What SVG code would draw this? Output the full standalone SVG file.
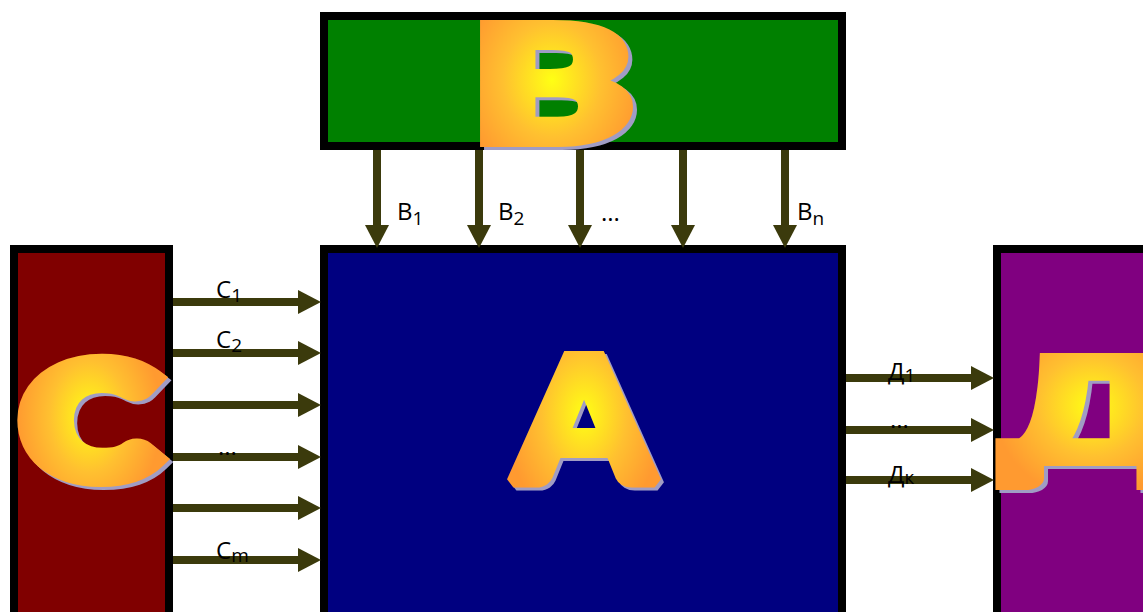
<svg xmlns="http://www.w3.org/2000/svg" width="1143" height="612" viewBox="0 0 1143 612">
<defs>
<radialGradient id="wa" cx="50%" cy="50%" r="55%">
<stop offset="0" stop-color="#ffff14"/>
<stop offset="0.55" stop-color="#ffc030"/>
<stop offset="1" stop-color="#ff9a30"/>
</radialGradient>
<marker id="ah" markerUnits="userSpaceOnUse" viewBox="0 0 23 24" markerWidth="23" markerHeight="24" refX="0" refY="12" orient="auto">
<path d="M0,0 L23,12 L0,24 Z" fill="#3b3a0c"/>
</marker>
<style>
.box{stroke:#000;stroke-width:8}
.big{font-family:Lato,"Liberation Sans",Arial,sans-serif;font-weight:900;text-anchor:middle;stroke-width:12;stroke-linejoin:miter;stroke-miterlimit:1.6;paint-order:stroke}
.sh{fill:#a09cc4;stroke:#a09cc4}
.fg{fill:url(#wa);stroke:url(#wa)}
.conn line{stroke:#3b3a0c;stroke-width:8;marker-end:url(#ah)}
.lbl{font-family:"Open Sans","Liberation Sans",sans-serif;font-size:24px;fill:#000}
.sub{font-size:19px}
</style>
</defs>
<rect width="1143" height="612" fill="#fff"/>

<g id="node-B">
<rect class="box" x="324" y="16" width="518" height="130" fill="#008000"/>
<g transform="translate(552,141) scale(1.55,1)">
<text class="big sh" x="2.5" y="3" font-size="158">В</text>
<text class="big fg" x="0" y="0" font-size="158">В</text>
</g>
</g>

<g id="node-A">
<rect class="box" x="324" y="249" width="518" height="400" fill="#000080"/>
<g transform="translate(584,481) scale(1.14,1)">
<text class="big sh" x="2.5" y="3" font-size="172">А</text>
<text class="big fg" x="0" y="0" font-size="172">А</text>
</g>
</g>

<g id="node-C">
<rect class="box" x="14" y="249" width="155" height="400" fill="#800000"/>
<g transform="translate(89,476) scale(1.3,1)">
<text class="big sh" x="2.5" y="3" font-size="153" style="stroke-width:20">С</text>
<text class="big fg" x="0" y="0" font-size="153" style="stroke-width:20">С</text>
</g>
</g>

<g id="node-D">
<rect class="box" x="997" y="249" width="200" height="400" fill="#800080"/>
<g transform="translate(1092,460) scale(1.55,1)">
<text class="big sh" x="2.5" y="3" font-size="140">Д</text>
<text class="big fg" x="0" y="0" font-size="140">Д</text>
</g>
</g>

<g id="connectors" class="conn">
<line x1="377" y1="150" x2="377" y2="225"/>
<line x1="479" y1="150" x2="479" y2="225"/>
<line x1="580" y1="150" x2="580" y2="225"/>
<line x1="683" y1="150" x2="683" y2="225"/>
<line x1="785" y1="150" x2="785" y2="225"/>
<line x1="173" y1="302" x2="298" y2="302"/>
<line x1="173" y1="353" x2="298" y2="353"/>
<line x1="173" y1="405" x2="298" y2="405"/>
<line x1="173" y1="457" x2="298" y2="457"/>
<line x1="173" y1="508" x2="298" y2="508"/>
<line x1="173" y1="560" x2="298" y2="560"/>
<line x1="846" y1="378" x2="971" y2="378"/>
<line x1="846" y1="430" x2="971" y2="430"/>
<line x1="846" y1="480" x2="971" y2="480"/>
</g>

<g id="labels">
<text class="lbl" x="397" y="220">В<tspan class="sub" dy="5">1</tspan></text>
<text class="lbl" x="498" y="220">В<tspan class="sub" dy="5">2</tspan></text>
<text class="lbl" x="601" y="221">...</text>
<text class="lbl" x="797" y="220">В<tspan class="sub" dy="5">n</tspan></text>
<text class="lbl" x="216" y="298">С<tspan class="sub" dy="4">1</tspan></text>
<text class="lbl" x="216" y="348">С<tspan class="sub" dy="4">2</tspan></text>
<text class="lbl" x="218" y="455">...</text>
<text class="lbl" x="216" y="559">С<tspan class="sub" dy="3">m</tspan></text>
<text class="lbl" x="888" y="380">Д<tspan class="sub" dy="2">1</tspan></text>
<text class="lbl" x="890" y="428">...</text>
<text class="lbl" x="888" y="483">Д<tspan class="sub" dy="1">к</tspan></text>
</g>
</svg>
